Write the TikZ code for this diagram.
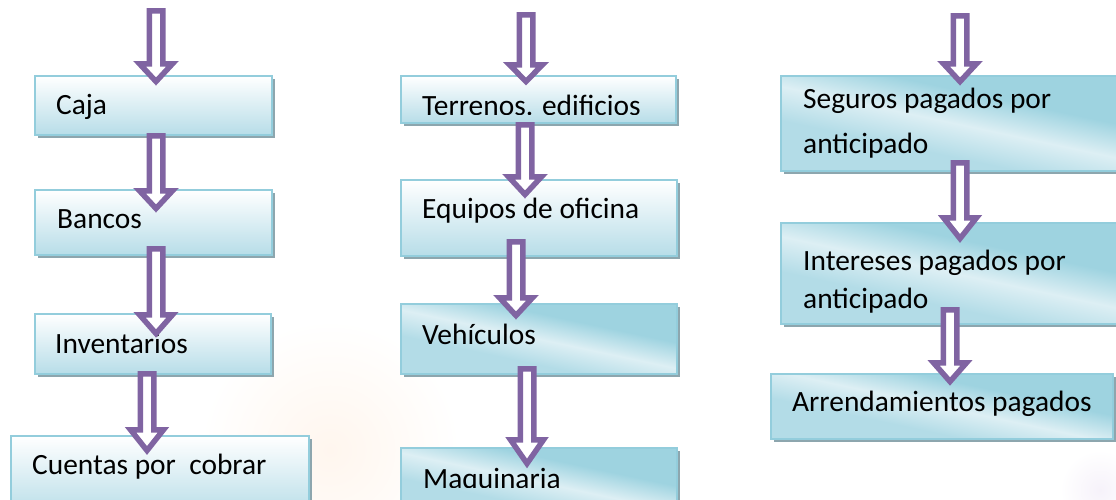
\documentclass[tikz,border=0pt]{standalone}
\usepackage{fontspec}
\setmainfont{Carlito}
\usetikzlibrary{shadows}
\definecolor{apurple}{HTML}{8064A2}
\definecolor{bborder}{HTML}{93CDDC}
\definecolor{bshadow}{HTML}{8DA6AE}
\definecolor{blight}{HTML}{DDEFF4}
\definecolor{bdark}{HTML}{9ED3E0}
\definecolor{bmid}{HTML}{B3DCE7}
\definecolor{bbottom}{HTML}{B7DDE8}
\definecolor{peach}{HTML}{FFF6EE}
\definecolor{lilac}{HTML}{F6F2FA}
\pgfdeclareverticalshading{diagbox}{100bp}{color(0bp)=(bmid); color(38bp)=(bmid); color(50bp)=(blight); color(62bp)=(bdark); color(100bp)=(bdark)}
\tikzset{
  boxbase/.style={draw=bborder, line width=2pt, inner sep=0pt, anchor=north west,
    general shadow={fill=bshadow, shadow xshift=3pt, shadow yshift=-3pt}},
  boxv/.style={boxbase, top color=white, bottom color=bbottom},
  boxd/.style={boxbase, shading=diagbox, shading angle=-12},
  txt/.style={anchor=base west, inner sep=0pt, font=\fontsize{29.4}{35}\selectfont},
  blockarrow/.style={draw=apurple, fill=white, line width=5.5pt, line join=miter},
}
% name, x1, y1, x2, y2, style
\newcommand\mkbox[6]{\node[#6, minimum width={(#4-#2)*1pt}, minimum height={(#5-#3)*1pt}] (#1) at (#2,#3) {};}
% cx, top, headstart, tip
\newcommand\mkarrow[4]{\draw[blockarrow] (#1-6.75,#2+2.75) -- (#1-6.75,#3+2.75) -- (#1-16.5,#3+2.75) -- (#1,#4-4.5) -- (#1+16.5,#3+2.75) -- (#1+6.75,#3+2.75) -- (#1+6.75,#2+2.75) -- cycle;}
\begin{document}
\begin{tikzpicture}[x=1pt, y=-1pt]
\useasboundingbox (0,0) rectangle (1116,499);
% faint background tints
\shade[inner color=peach, outer color=white] (330,450) circle (130);
\shade[inner color=lilac, outer color=white] (1100,490) circle (40);
% column 1
\mkbox{caja}{34}{75}{271}{134}{boxv}
\mkbox{bancos}{34}{189}{271}{254}{boxv}
\mkbox{inv}{34}{313}{270}{373}{boxv}
\mkbox{cxc}{10}{435}{308}{515}{boxv}
% column 2
\mkbox{terr}{400}{75}{675}{122}{boxv}
\mkbox{equi}{400}{179}{676}{255}{boxv}
\mkbox{vehi}{400}{303}{676}{373}{boxd}
\mkbox{maq}{400}{447}{676}{515}{boxd}
% column 3
\mkbox{seg}{780}{75}{1130}{170}{boxd}
\mkbox{inte}{780}{222}{1130}{323}{boxd}
\mkbox{arre}{770}{373}{1112}{438}{boxd}
% texts
\node[txt] (cajat) at (56,114) {Caja};
\node[txt] (bancost) at (57,228) {Bancos};
\node[txt] (invt) at (55,353) {Inventarios};
\node[txt] (cxct) at (32,474) {Cuentas por\ \ cobrar};
\begin{scope}
\clip (400,60) rectangle (676,114.5);
\node[txt] (terrt) at (422,115) {Terrenos. edificios};
\end{scope}
\node[txt] (equit) at (422,218) {Equipos de oficina};
\node[txt] (vehit) at (422,344) {Vehículos};
\begin{scope}
\clip (400,440) rectangle (676,487.5);
\node[txt] (maqt) at (423,488) {Maquinaria};
\end{scope}
\node[txt] (segt) at (803,108) {\vtop{\baselineskip=45pt\hbox{Seguros pagados por}\hbox{anticipado}}};
\node[txt] (intet) at (803,270) {\vtop{\baselineskip=38pt\hbox{Intereses pagados por}\hbox{anticipado}}};
\node[txt] (arret) at (792,411) {Arrendamientos pagados};
% arrows
\mkarrow{156}{8}{61}{86}
\mkarrow{156}{133}{188}{213}
\mkarrow{156}{246}{312}{338}
\mkarrow{147}{371}{427}{455}
\mkarrow{526}{12}{62}{86}
\mkarrow{525}{122}{174}{199}
\mkarrow{516}{239}{295}{320}
\mkarrow{527}{366}{437}{468}
\mkarrow{960}{13}{61}{86}
\mkarrow{960}{160}{215}{243}
\mkarrow{950}{307}{360}{386}
\end{tikzpicture}
\end{document}
